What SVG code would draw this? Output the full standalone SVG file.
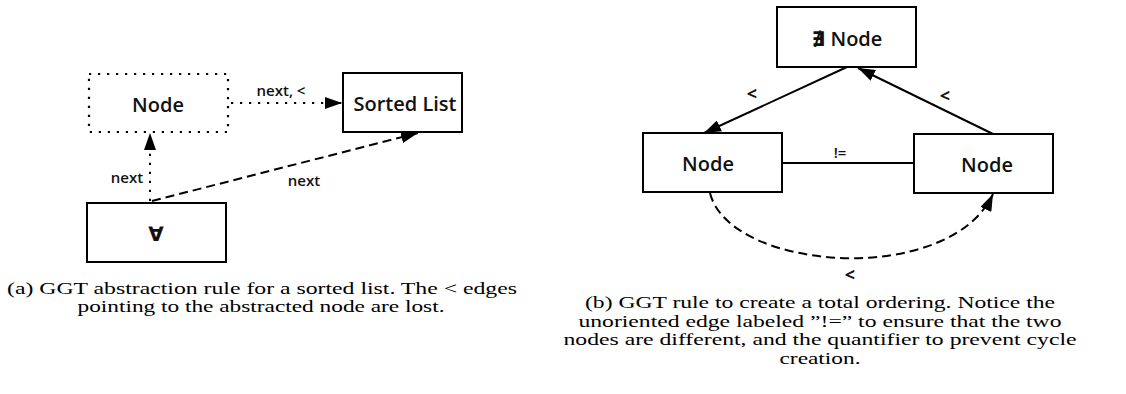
<svg xmlns="http://www.w3.org/2000/svg" width="1126" height="394" viewBox="0 0 1126 394">
<style>
.box{fill:#fff;stroke:#000;stroke-width:2}
.dot{fill:#fff;stroke:#000;stroke-width:2.2;stroke-dasharray:2.2 6.8}
.lbl{font-family:"Open Sans","DejaVu Sans",sans-serif;font-size:20px;font-weight:600;fill:#111;text-anchor:middle;dominant-baseline:central}
.el{font-family:"Open Sans","DejaVu Sans",sans-serif;font-size:15px;font-weight:600;fill:#111;text-anchor:middle;dominant-baseline:central}
.lt{font-size:18px;font-weight:700}
.cap{font-family:"Liberation Serif","DejaVu Serif",serif;font-size:16px;fill:#000;text-anchor:middle}
.ln{fill:none;stroke:#000;stroke-width:2}
.dotted{stroke-dasharray:2.2 6.8}
.dashed{stroke-dasharray:9 5}
</style>
<defs>
<marker id="ah" viewBox="0 0 17 12" refX="17" refY="6" markerWidth="17" markerHeight="12" markerUnits="userSpaceOnUse" orient="auto">
<path d="M0,0 L17,6 L0,12 Z" fill="#000"/>
</marker>
</defs>
<g id="connectors">
<line class="ln dotted" x1="231" y1="103" x2="342" y2="103" marker-end="url(#ah)"/>
<line class="ln dotted" x1="150" y1="201" x2="150" y2="133" marker-end="url(#ah)"/>
<line class="ln dashed" x1="152" y1="201" x2="418" y2="133" marker-end="url(#ah)"/>
<line class="ln" x1="847" y1="67" x2="704" y2="133" marker-end="url(#ah)"/>
<line class="ln" x1="993" y1="134" x2="858" y2="68" marker-end="url(#ah)"/>
<line class="ln" x1="782" y1="163" x2="914" y2="163" stroke-width="1.5"/>
<path class="ln dashed" d="M710,193 C730,272 950,287 993,194" marker-end="url(#ah)"/>
<text class="el" x="281" y="90">next, &lt;</text>
<text class="el" x="127" y="177">next</text>
<text class="el" x="304" y="180">next</text>
<text class="el lt" x="752" y="93">&lt;</text>
<text class="el lt" x="945" y="95">&lt;</text>
<text class="el" x="840" y="152" font-size="16">!=</text>
<text class="el lt" x="850" y="274">&lt;</text>
</g>
<g id="node-a-node">
<rect class="dot" x="89" y="74" width="139" height="58"/>
<text class="lbl" x="158" y="104">Node</text>
</g>
<g id="node-a-sorted">
<rect class="box" x="343" y="73" width="119" height="59"/>
<text class="lbl" x="405" y="103">Sorted List</text>
</g>
<g id="node-a-forall">
<rect class="box" x="87" y="203" width="139" height="59"/>
<text class="lbl" x="156" y="233" font-size="16">∀</text>
</g>
<g id="node-b-top">
<rect class="box" x="777" y="7" width="139" height="60"/>
<text class="lbl" x="847" y="38" font-size="17">∄ Node</text>
</g>
<g id="node-b-left">
<rect class="box" x="643" y="133" width="139" height="59"/>
<text class="lbl" x="708" y="163">Node</text>
</g>
<g id="node-b-right">
<rect class="box" x="914" y="134" width="139" height="59"/>
<text class="lbl" x="987" y="164">Node</text>
</g>
<g id="captions">
<text class="cap" x="262" y="294" textLength="510" lengthAdjust="spacingAndGlyphs">(a) GGT abstraction rule for a sorted list. The &lt; edges</text>
<text class="cap" x="261" y="312" textLength="367" lengthAdjust="spacingAndGlyphs">pointing to the abstracted node are lost.</text>
<text class="cap" x="820" y="308" textLength="470" lengthAdjust="spacingAndGlyphs">(b) GGT rule to create a total ordering. Notice the</text>
<text class="cap" x="820" y="327" textLength="483" lengthAdjust="spacingAndGlyphs">unoriented edge labeled ”!=” to ensure that the two</text>
<text class="cap" x="820" y="345" textLength="513" lengthAdjust="spacingAndGlyphs">nodes are different, and the quantifier to prevent cycle</text>
<text class="cap" x="820" y="364" textLength="81" lengthAdjust="spacingAndGlyphs">creation.</text>
</g>
</svg>
